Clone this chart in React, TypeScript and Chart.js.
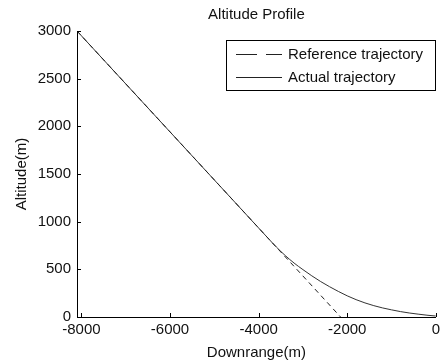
import { useEffect, useRef } from "react";
import { Chart, registerables } from "chart.js";
Chart.register(...registerables);

const TITLE = "Altitude Profile";
const X_LABEL = "Downrange(m)";
const Y_LABEL = "Altitude(m)";
const SERIES_NAMES = ["Reference trajectory", "Actual trajectory"];
const X_TICKS = [-8000, -6000, -4000, -2000, 0];
const Y_TICKS = [0, 500, 1000, 1500, 2000, 2500, 3000];

const REF_X = [-8100, -7000, -6000, -5000, -4000, -3000, -2150];
const REF_Y = [3000, 2446, 1942, 1438, 934, 430, 0];

const ACT_X = [
  -8100, -7600, -7100, -6600, -6100, -5600, -5100, -4600, -4100, -3800, -3600,
  -3400, -3200, -3000, -2800, -2600, -2400, -2200, -2000, -1800, -1600, -1400,
  -1200, -1000, -800, -600, -400, -200, 0,
];
const ACT_Y = [
  3000, 2748, 2496, 2244, 1992, 1740, 1488, 1236, 984, 833, 734, 645, 566, 497,
  432, 372, 318, 268, 222, 182, 148, 119, 95, 75, 57, 42, 30, 19, 10,
];

const FONT_FAMILY = "'Liberation Sans', Arial, sans-serif";
const TEXT_COLOR = "#111";

export default function App() {
  const ref = useRef<HTMLCanvasElement | null>(null);

  useEffect(() => {
    if (!ref.current) return;

    const decor = {
      id: "decor",
      afterDraw(chart: any) {
        const { ctx, chartArea, scales } = chart;
        const xs = scales.x;
        const ys = scales.y;
        ctx.save();
        // inward ticks
        ctx.strokeStyle = "#000";
        ctx.lineWidth = 1;
        ctx.setLineDash([]);
        ctx.beginPath();
        X_TICKS.forEach((v) => {
          const px = Math.round(xs.getPixelForValue(v)) + 0.5;
          ctx.moveTo(px, chartArea.bottom);
          ctx.lineTo(px, chartArea.bottom - 4);
        });
        Y_TICKS.forEach((v) => {
          const py = Math.round(ys.getPixelForValue(v)) + 0.5;
          ctx.moveTo(chartArea.left, py);
          ctx.lineTo(chartArea.left + 4, py);
        });
        ctx.stroke();

        // titles
        ctx.fillStyle = TEXT_COLOR;
        ctx.font = `15px ${FONT_FAMILY}`;
        ctx.textAlign = "center";
        ctx.textBaseline = "middle";
        const cx = (chartArea.left + chartArea.right) / 2;
        ctx.fillText(TITLE, cx, 15);
        ctx.fillText(X_LABEL, cx, 353);
        ctx.save();
        ctx.translate(22, (chartArea.top + chartArea.bottom) / 2);
        ctx.rotate(-Math.PI / 2);
        ctx.fillText(Y_LABEL, 0, 0);
        ctx.restore();

        // legend
        const lx = 226.5, ly = 40.5, lw = 209, lh = 50;
        ctx.fillStyle = "#fff";
        ctx.fillRect(lx, ly, lw, lh);
        ctx.strokeStyle = "#000";
        ctx.strokeRect(lx, ly, lw, lh);
        const rows = [54, 77];
        chart.data.datasets.forEach((ds: any, i: number) => {
          const y = rows[i] + 0.5;
          ctx.strokeStyle = "#222";
          ctx.setLineDash(i === 0 ? [21, 9] : []);
          ctx.beginPath();
          ctx.moveTo(236, y);
          ctx.lineTo(282, y);
          ctx.stroke();
          ctx.setLineDash([]);
          ctx.fillStyle = TEXT_COLOR;
          ctx.textAlign = "left";
          ctx.textBaseline = "middle";
          ctx.font = `15px ${FONT_FAMILY}`;
          ctx.fillText(ds.label, 288, rows[i] + 0.5);
        });
        ctx.restore();
      },
    };

    const tickFont = { family: FONT_FAMILY, size: 15 };

    const chart = new Chart(ref.current, {
      type: "line",
      data: {
        datasets: [
          {
            label: SERIES_NAMES[0],
            data: REF_X.map((x, i) => ({ x, y: REF_Y[i] })),
            borderColor: "#222",
            borderWidth: 1,
            borderDash: [5, 4],
            pointRadius: 0,
            fill: false,
            tension: 0,
          },
          {
            label: SERIES_NAMES[1],
            data: ACT_X.map((x, i) => ({ x, y: ACT_Y[i] })),
            borderColor: "#333",
            borderWidth: 1,
            pointRadius: 0,
            fill: false,
            cubicInterpolationMode: "monotone",
          },
        ],
      },
      options: {
        animation: false,
        responsive: false,
        devicePixelRatio: 1,
        layout: { padding: { top: 31, right: 3.5, left: 0, bottom: 0 } },
        plugins: {
          legend: { display: false },
          title: { display: false },
          tooltip: { enabled: false },
        },
        scales: {
          x: {
            type: "linear",
            min: -8100,
            max: 0,
            afterBuildTicks: (s: any) => {
              s.ticks = X_TICKS.map((v) => ({ value: v }));
            },
            afterFit: (s: any) => {
              s.height = 47;
            },
            ticks: {
              font: tickFont,
              color: TEXT_COLOR,
              padding: 4,
              maxRotation: 0,
              autoSkip: false,
              callback: (v: any) => String(v),
            },
            grid: { display: false, drawTicks: false },
            border: { display: true, color: "#000", width: 1 },
          },
          y: {
            type: "linear",
            min: 0,
            max: 3000,
            afterBuildTicks: (s: any) => {
              s.ticks = Y_TICKS.map((v) => ({ value: v }));
            },
            afterFit: (s: any) => {
              s.width = 77;
            },
            ticks: {
              font: tickFont,
              color: TEXT_COLOR,
              padding: 6,
              autoSkip: false,
              callback: (v: any) => String(v),
            },
            grid: { display: false, drawTicks: false },
            border: { display: true, color: "#000", width: 1 },
          },
        },
      },
      plugins: [decor],
    });

    return () => chart.destroy();
  }, []);

  return (
    <div style={{ position: "fixed", left: 0, top: 0, width: 444, height: 364, background: "#fff" }}>
      <canvas ref={ref} width={444} height={364} style={{ display: "block" }} />
    </div>
  );
}
